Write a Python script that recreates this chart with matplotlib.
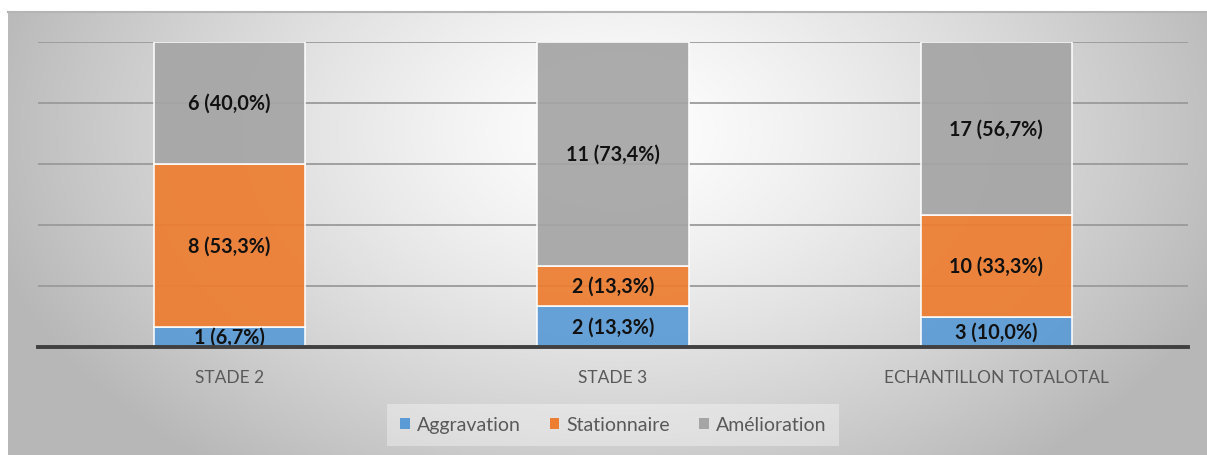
import numpy as np
import matplotlib
matplotlib.use("Agg")
import matplotlib.pyplot as plt
from matplotlib.lines import Line2D
from matplotlib.patches import Patch

plt.rcParams['font.family'] = ['Lato', 'DejaVu Sans']

categories = ['STADE 2', 'STADE 3', 'ECHANTILLON TOTALOTAL']
series = ['Aggravation', 'Stationnaire', 'Amélioration']
counts = {
    'Aggravation': [1, 2, 3],
    'Stationnaire': [8, 2, 10],
    'Amélioration': [6, 11, 17],
}
percents = {
    'Aggravation': [6.7, 13.3, 10.0],
    'Stationnaire': [53.3, 13.3, 33.3],
    'Amélioration': [40.0, 73.4, 56.7],
}
colors = {'Aggravation': '#5B9BD5', 'Stationnaire': '#ED7D31', 'Amélioration': '#A5A5A5'}

W, H = 1207, 456
fig = plt.figure(figsize=(W / 100, H / 100), dpi=100)
fig.patch.set_facecolor('white')

# radial grey background of the chart area
bg = fig.add_axes([8 / W, 0, 1 - 8 / W, (H - 12) / H], zorder=0)
yy, xx = np.mgrid[0:444, 0:1199]
r = np.sqrt(((xx - 610) / 640.0) ** 2 + ((yy - 120) / 420.0) ** 2)
val = 255 - 70 * np.clip(r, 0, 1.15) ** 1.3
val = np.clip(val, 183, 255) / 255.0
bg.imshow(np.dstack([val, val, val]), aspect='auto', interpolation='bilinear')
bg.axis('off')
fig.add_artist(Line2D([8 / W, 1], [(H - 12.5) / H] * 2, color='#b4b4b4', lw=1.5, zorder=1))

ax = fig.add_axes([38 / W, (H - 348) / H, 1150 / W, 305 / H], zorder=2)
ax.patch.set_alpha(0)
x = np.arange(len(categories))
bottom = np.zeros(len(categories))
for s in series:
    vals = np.array(percents[s])
    ax.bar(x, vals, 0.394, bottom=bottom, color=colors[s], edgecolor='white',
           linewidth=1.2, alpha=0.93, zorder=2, label=s)
    for xi, b, v, c in zip(x, bottom, vals, counts[s]):
        lab = '%d (%s%%)' % (c, ('%.1f' % v).replace('.', ','))
        ax.text(xi, b + v / 2, lab, ha='center', va='center', fontsize=14.2,
                fontweight='bold', color='#111111', zorder=4)
    bottom += vals

ax.set_xlim(-0.5, 2.5)
ax.set_ylim(0, 100)
ax.set_yticks([20, 40, 60, 80, 100])
ax.yaxis.grid(True, color='#9a9a9a', lw=1.3, zorder=1)
ax.set_axisbelow(True)
ax.tick_params(left=False, labelleft=False, bottom=False)
for sp in ['top', 'right', 'left']:
    ax.spines[sp].set_visible(False)
ax.spines['bottom'].set_color('#404040')
ax.spines['bottom'].set_linewidth(2.8)
ax.spines['bottom'].set_zorder(5)
ax.set_xticks(x)
ax.set_xticklabels(categories, fontsize=12.5, color='#595959')
ax.tick_params(axis='x', pad=12)

handles = [Patch(facecolor=colors[s], edgecolor='none') for s in series]
leg = fig.legend(handles, series, loc='center', bbox_to_anchor=(613 / W, (H - 426) / H),
                 ncol=3, frameon=True, fontsize=14, handlelength=0.5, handleheight=0.5,
                 handletextpad=0.35, columnspacing=1.5, borderpad=0.65, fancybox=False,
                 labelcolor='#595959')
leg.get_frame().set_facecolor('white')
leg.get_frame().set_alpha(0.35)
leg.get_frame().set_edgecolor('none')

fig.savefig('out.png', dpi=100)
